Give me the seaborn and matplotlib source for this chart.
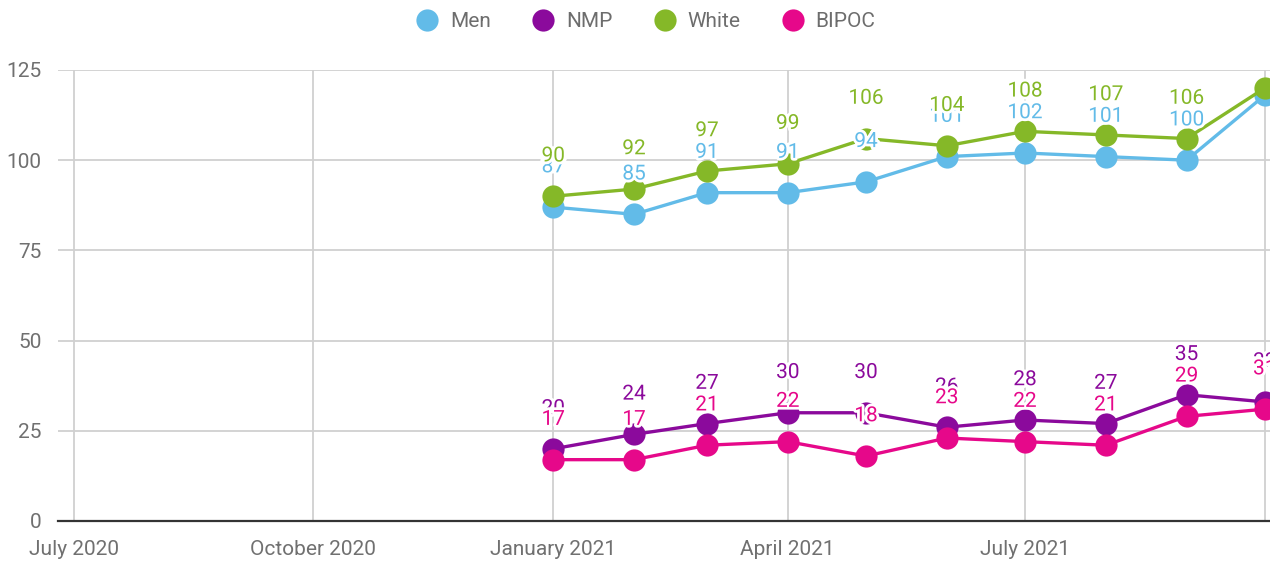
import matplotlib
matplotlib.use("Agg")
import matplotlib.pyplot as plt
import matplotlib.patheffects as pe
from matplotlib.lines import Line2D
import pandas as pd
import seaborn as sns

months = ["2021-01-01", "2021-02-01", "2021-03-01", "2021-04-01", "2021-05-01",
          "2021-06-01", "2021-07-01", "2021-08-01", "2021-09-01", "2021-10-01"]
men = [87, 85, 91, 91, 94, 101, 102, 101, 100, 118]
nmp = [20, 24, 27, 30, 30, 26, 28, 27, 35, 33]
white = [90, 92, 97, 99, 106, 104, 108, 107, 106, 120]
bipoc = [17, 17, 21, 22, 18, 23, 22, 21, 29, 31]

series_names = ["Men", "NMP", "White", "BIPOC"]
series_values = [men, nmp, white, bipoc]
colors = ["#62bbe8", "#8b0a9c", "#85b828", "#e6088a"]
tick_dates = ["2020-07-01", "2020-10-01", "2021-01-01", "2021-04-01", "2021-07-01", "2021-10-01"]
tick_labels = ["July 2020", "October 2020", "January 2021", "April 2021", "July 2021", ""]
y_ticks = [0, 25, 50, 75, 100, 125]

sns.set_theme(style="white")
plt.rcParams["font.family"] = ["Roboto", "DejaVu Sans"]

rows = []
for name, vals in zip(series_names, series_values):
    for m, v in zip(months, vals):
        rows.append({"date": pd.Timestamp(m), "value": v, "series": name})
df = pd.DataFrame(rows)

fig = plt.figure(figsize=(12.7, 5.62), dpi=100)
ax = fig.add_axes([58 / 1270, 41 / 562, 1 - 58 / 1270, (521 - 70) / 562])

palette = dict(zip(series_names, colors))
sns.lineplot(data=df, x="date", y="value", hue="series", hue_order=series_names,
             palette=palette, marker="o", markersize=16, markeredgewidth=0,
             linewidth=2.4, legend=False, ax=ax, clip_on=False, zorder=3)

for name, vals, c in zip(series_names, series_values, colors):
    for m, v in zip(months, vals):
        t = ax.annotate(str(v), (pd.Timestamp(m), v), xytext=(0, 29), textcoords="offset points",
                        ha="center", va="center", fontsize=15, color=c, zorder=5,
                        annotation_clip=False,
                        path_effects=[pe.withStroke(linewidth=4, foreground="white")])
        t.set_clip_on(True)
        t.set_clip_box(ax.bbox)

ax.set_xlim(pd.Timestamp("2020-06-25"), pd.Timestamp("2021-10-03"))
ax.set_ylim(0, 125)
ax.set_xticks([pd.Timestamp(d) for d in tick_dates])
ax.set_xticklabels(tick_labels)
ax.set_yticks(y_ticks)
ax.grid(True, color="#d0d0d0", linewidth=1.3)
ax.set_axisbelow(True)
for s in ["left", "right", "top"]:
    ax.spines[s].set_visible(False)
ax.spines["bottom"].set_color("#333333")
ax.spines["bottom"].set_linewidth(1.6)
ax.tick_params(axis="both", length=0, labelsize=15, colors="#707070")
ax.tick_params(axis="y", pad=12)
ax.tick_params(axis="x", pad=14)
ax.set_xlabel("")
ax.set_ylabel("")

handles = [Line2D([], [], marker="o", linestyle="none", markersize=16,
                  markerfacecolor=c, markeredgewidth=0) for c in colors]
leg = fig.legend(handles, series_names, loc="upper center", bbox_to_anchor=(0.508, 1.012),
                 ncol=4, frameon=False, fontsize=15, handletextpad=0.5,
                 columnspacing=1.9, handlelength=1.2)
for t in leg.get_texts():
    t.set_color("#6d6d6d")

fig.savefig("out.png", dpi=100)
